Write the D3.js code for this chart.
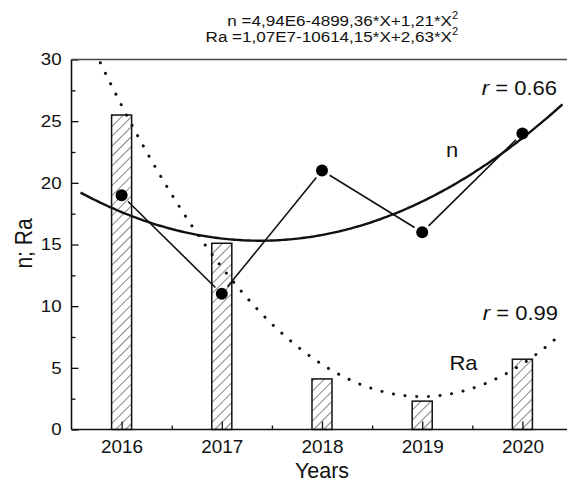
<!DOCTYPE html>
<html>
<head>
<meta charset="utf-8">
<script src="https://cdn.jsdelivr.net/npm/d3@7"></script>
<style>
  html, body { margin: 0; padding: 0; background: #fff; }
  svg { display: block; font-family: "Liberation Sans", Arial, sans-serif; }
</style>
</head>
<body>
<svg id="chart" width="567" height="484"></svg>
<script>
// ---- data ----
const years = [2016, 2017, 2018, 2019, 2020];
const nValues = [19, 11, 21, 16, 24];
const raValues = [25.5, 15.1, 4.1, 2.3, 5.7];
const yTicks = [0, 5, 10, 15, 20, 25, 30];
const yMinorTicks = [2.5, 7.5, 12.5, 17.5, 22.5, 27.5];
const xMinorTicks = [2016.5, 2017.5, 2018.5, 2019.5, 2020.5];
const fitRange = [2015.59, 2020.4];
const equationLines = [
  { main: "n =4,94E6-4899,36*X+1,21*X", sup: "2" },
  { main: "Ra =1,07E7-10614,15*X+2,63*X", sup: "2" }
];
const rLabels = [{ text: "0.66", series: "n" }, { text: "0.99", series: "Ra" }];

// ---- layout ----
const svg = d3.select("#chart");
const W = 567, H = 484;
const x = d3.scaleLinear().domain([2015.5, 2021]).range([71.5, 622.6]);
const y = d3.scaleLinear().domain([0, 30]).range([429.5, 59.5]);
const ink = "#111";
const SX = 1.1; // horizontal stretch of the reference's text

// quadratic least-squares fit (computed from the data)
function quadFit(xs, ys) {
  const xm = d3.mean(xs);
  const t = xs.map(v => v - xm);
  const n = xs.length;
  const S = p => d3.sum(t, v => Math.pow(v, p));
  const Sy = p => d3.sum(t, (v, i) => Math.pow(v, p) * ys[i]);
  const A = [[n, S(1), S(2)], [S(1), S(2), S(3)], [S(2), S(3), S(4)]];
  const B = [Sy(0), Sy(1), Sy(2)];
  const det = m => m[0][0]*(m[1][1]*m[2][2]-m[1][2]*m[2][1]) - m[0][1]*(m[1][0]*m[2][2]-m[1][2]*m[2][0]) + m[0][2]*(m[1][0]*m[2][1]-m[1][1]*m[2][0]);
  const D = det(A);
  const col = k => A.map((row, i) => row.map((v, j) => j === k ? B[i] : v));
  const a = det(col(0)) / D, b = det(col(1)) / D, c = det(col(2)) / D;
  return xv => { const tt = xv - xm; return a + b * tt + c * tt * tt; };
}
const nFit = quadFit(years, nValues);
const raFit = quadFit(years, raValues);

// defs: hatch pattern & clip
const defs = svg.append("defs");
const pat = defs.append("pattern")
  .attr("id", "hatch").attr("patternUnits", "userSpaceOnUse")
  .attr("width", 7).attr("height", 7)
  .attr("patternTransform", "rotate(45)");
pat.append("rect").attr("width", 7).attr("height", 7).attr("fill", "#fff");
pat.append("line").attr("x1", 0).attr("y1", 0).attr("x2", 0).attr("y2", 7)
  .attr("stroke", "#222").attr("stroke-width", 1.1);
defs.append("clipPath").attr("id", "plotClip").append("rect")
  .attr("x", x(2015.5)).attr("y", y(30)).attr("width", W - x(2015.5)).attr("height", y(0) - y(30));

// bars
const barW = (x(2017) - x(2016)) * 0.2;
svg.append("g").selectAll("rect").data(years).join("rect")
  .attr("x", (d) => x(d) - barW / 2)
  .attr("y", (d, i) => y(raValues[i]))
  .attr("width", barW)
  .attr("height", (d, i) => y(0) - y(raValues[i]))
  .attr("fill", "url(#hatch)")
  .attr("stroke", ink).attr("stroke-width", 1.5);

// axes
function styleAxis(g) {
  g.selectAll(".tick line").attr("stroke", ink).attr("stroke-width", 1.3);
  g.select(".domain").remove();
}
const yAxis = svg.append("g").attr("transform", `translate(${x(2015.5)},0)`)
  .call(d3.axisLeft(y).tickValues(yTicks).tickSize(-7).tickPadding(9).tickSizeOuter(0))
  .call(styleAxis);
yAxis.selectAll("text").attr("font-size", 17).attr("fill", ink)
  .attr("font-family", "Liberation Sans, Arial, sans-serif")
  .attr("transform", `scale(${SX},1)`);
svg.append("g").attr("transform", `translate(${x(2015.5)},0)`)
  .call(d3.axisLeft(y).tickValues(yMinorTicks).tickSize(-4).tickFormat(""))
  .call(styleAxis);

const xAxis = svg.append("g").attr("transform", `translate(0,${y(0)})`)
  .call(d3.axisBottom(x).tickValues(years).tickSize(-8).tickPadding(11).tickFormat(d3.format("d")))
  .call(styleAxis);
xAxis.selectAll("text").attr("font-size", 18).attr("fill", ink)
  .attr("font-family", "Liberation Sans, Arial, sans-serif")
  .attr("transform", `scale(1.05,1)`);
svg.append("g").attr("transform", `translate(0,${y(0)})`)
  .call(d3.axisBottom(x).tickValues(xMinorTicks).tickSize(-4).tickFormat(""))
  .call(styleAxis);

// frame lines
svg.append("line").attr("x1", x(2015.5)).attr("x2", x(2015.5)).attr("y1", y(0)).attr("y2", y(30))
  .attr("stroke", ink).attr("stroke-width", 1.6);
svg.append("line").attr("x1", x(2015.5)).attr("x2", W).attr("y1", y(0)).attr("y2", y(0))
  .attr("stroke", ink).attr("stroke-width", 1.6);
svg.append("line").attr("x1", x(2015.5)).attr("x2", W).attr("y1", y(30)).attr("y2", y(30))
  .attr("stroke", "#444").attr("stroke-width", 1.4);

// fit curves
const fitXs = d3.range(fitRange[0], fitRange[1] + 1e-9, (fitRange[1] - fitRange[0]) / 200);
const line = d3.line().x(d => x(d[0])).y(d => y(d[1]));
svg.append("path").datum(fitXs.map(v => [v, raFit(v)]))
  .attr("clip-path", "url(#plotClip)")
  .attr("d", line).attr("fill", "none").attr("stroke", ink)
  .attr("stroke-width", 3).attr("stroke-linecap", "round")
  .attr("stroke-dasharray", "0.1 11.6");
svg.append("path").datum(fitXs.map(v => [v, nFit(v)]))
  .attr("d", line).attr("fill", "none").attr("stroke", ink)
  .attr("stroke-width", 2.4);

// connecting segments with gaps at markers
const pts = years.map((d, i) => [x(d), y(nValues[i])]);
const gap = 9;
const segs = d3.pairs(pts).map(([a, b]) => {
  const dx = b[0] - a[0], dy = b[1] - a[1], L = Math.hypot(dx, dy);
  const ux = dx / L, uy = dy / L;
  return [a[0] + ux * gap, a[1] + uy * gap, b[0] - ux * gap, b[1] - uy * gap];
});
svg.append("g").selectAll("line").data(segs).join("line")
  .attr("x1", d => d[0]).attr("y1", d => d[1]).attr("x2", d => d[2]).attr("y2", d => d[3])
  .attr("stroke", ink).attr("stroke-width", 1.6);
svg.append("g").selectAll("circle").data(years).join("circle")
  .attr("cx", d => x(d)).attr("cy", (d, i) => y(nValues[i]))
  .attr("r", 6).attr("fill", "#000");

// text helper (stretched horizontally like the reference)
function label(px, py, anchor, size, sx) {
  return svg.append("text")
    .attr("transform", `translate(${px},${py}) scale(${sx || SX},1)`)
    .attr("text-anchor", anchor).attr("font-size", size).attr("fill", ink);
}

// equations
equationLines.forEach((eq, i) => {
  const t = label(458, 26 + i * 16, "end", 15.5);
  t.append("tspan").text(eq.main);
  t.append("tspan").attr("font-size", 10).attr("dy", -7).text(eq.sup);
});

// r labels
const rPos = { n: [557, 95], Ra: [558, 320] };
rLabels.forEach(r => {
  const t = label(rPos[r.series][0], rPos[r.series][1], "end", 20);
  t.append("tspan").attr("font-style", "italic").text("r");
  t.append("tspan").text(" = " + r.text);
});

// series names
label(452, 157, "middle", 20).text("n");
label(463.5, 370, "middle", 20).text("Ra");

// axis titles
label(x(2018), 478, "middle", 21.5, 1.0).text("Years");
svg.append("text")
  .attr("transform", `translate(32,${243.5}) rotate(-90) scale(1,${SX})`)
  .attr("text-anchor", "middle").attr("font-size", 21).attr("fill", ink)
  .text("n; Ra");
</script>
</body>
</html>
